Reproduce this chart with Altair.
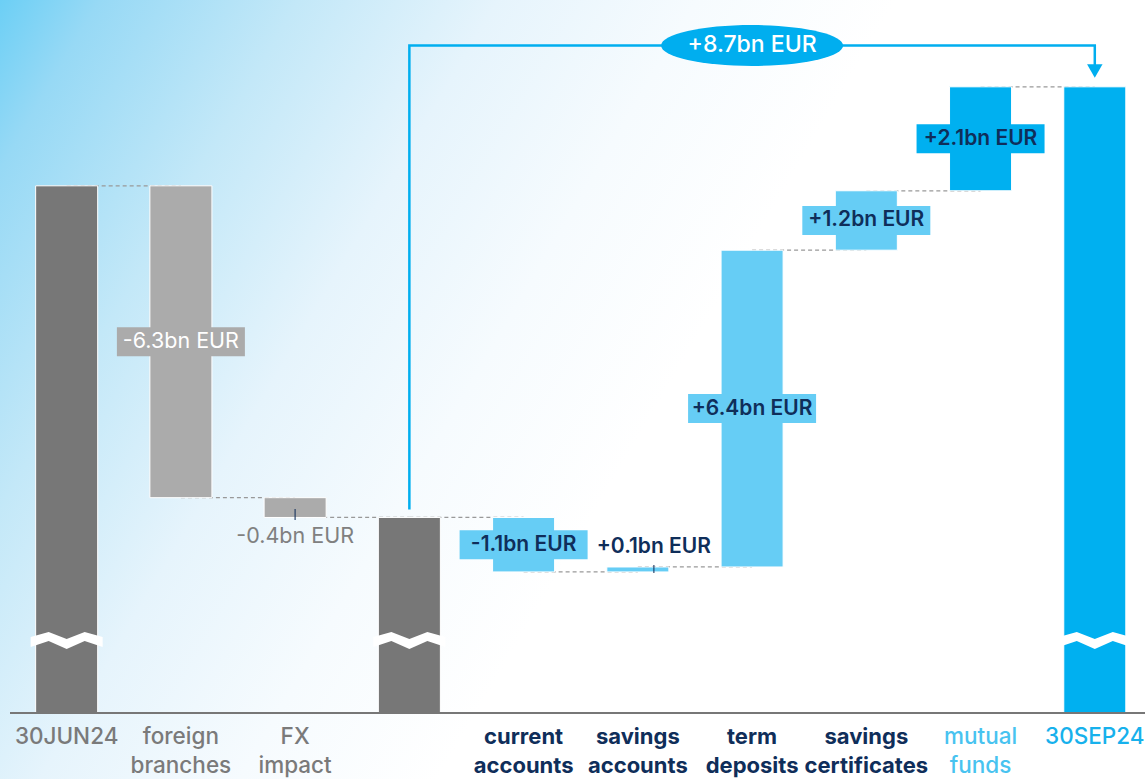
import altair as alt
import pandas as pd

# ---------------- data ----------------
categories = ["30JUN24", "foreign branches", "FX impact", "subtotal",
              "current accounts", "savings accounts", "term deposits",
              "savings certificates", "mutual funds", "30SEP24"]
label_line1 = ["30JUN24", "foreign", "FX", "", "current", "savings", "term",
               "savings", "mutual", "30SEP24"]
label_line2 = ["", "branches", "impact", "", "accounts", "accounts", "deposits",
               "certificates", "funds", ""]
bar_kind = ["total", "change", "change", "total", "change", "change", "change",
            "change", "change", "total"]
changes = [None, -6.3, -0.4, None, -1.1, 0.1, 6.4, 1.2, 2.1, None]
style_group = ["grey_total", "grey_change", "grey_change", "grey_total",
               "blue_change", "blue_change", "blue_change", "blue_change",
               "fund_change", "blue_total"]
label_place = ["none", "box", "below", "none", "box", "above", "box", "box",
               "box", "none"]
start_level = 10.65   # height of 30JUN24 above the axis cut (bn EUR)
bracket_from = "subtotal"
bracket_to = "30SEP24"

# ---------------- styles / layout ----------------
W, H = 1145, 779
PX_PER_BN = 49.5
BASELINE_PX = 713
Y_MAX = BASELINE_PX / PX_PER_BN
Y_MIN = -(H - BASELINE_PX) / PX_PER_BN
LABEL_Y1 = -24 / PX_PER_BN
LABEL_Y2 = -53 / PX_PER_BN
BREAK_Y = 73 / PX_PER_BN
FONT = "Inter"

bar_colors = {"grey_total": "#777777", "grey_change": "#ababab",
              "blue_change": "#66cdf5", "fund_change": "#00b0f0",
              "blue_total": "#00b0f0"}
cat_label_colors = {"grey_total": "#7a7a7a", "grey_change": "#7a7a7a",
                    "blue_change": "#0f2e5a", "fund_change": "#48c3f0",
                    "blue_total": "#17b1ec"}
NAVY = "#0f2e5a"
ARROW_BLUE = "#00aeef"

ZIGZAG = ("M-1,-0.083 L-0.5,-0.222 L0,-0.028 L0.5,-0.222 L1,-0.083 "
          "L1,0.194 L0.5,0.028 L0,0.25 L-0.5,0.028 L-1,0.194 Z")
BOX = "M-1,-0.227 L1,-0.227 L1,0.227 L-1,0.227 Z"
K = 0.5523
RY = 0.225
ELLIPSE = (f"M-1,0 C-1,{-RY*K} {-K},{-RY} 0,{-RY} C{K},{-RY} 1,{-RY*K} 1,0 "
           f"C1,{RY*K} {K},{RY} 0,{RY} C{-K},{RY} -1,{RY*K} -1,0 Z")

# ---------------- build table ----------------
rows = []
level = start_level
for i, c in enumerate(categories):
    if bar_kind[i] == "total":
        lo, hi, end = 0.0, level, level
        text = ""
    else:
        s = level
        e = level + changes[i]
        level = e
        lo, hi, end = min(s, e), max(s, e), e
        text = f"{changes[i]:+.1f}bn EUR"
    rows.append(dict(category=c, lo=lo, hi=hi, mid=(lo + hi) / 2, end=end,
                     kind=bar_kind[i], group=style_group[i], place=label_place[i],
                     text=text, line1=label_line1[i], line2=label_line2[i],
                     bar_color=bar_colors[style_group[i]],
                     lab_color=cat_label_colors[style_group[i]]))
df = pd.DataFrame(rows)

conn = pd.DataFrame([dict(category=categories[i], next=categories[i + 1],
                          level=rows[i]["end"]) for i in range(len(categories) - 1)])

i_from = categories.index(bracket_from)
i_to = categories.index(bracket_to)
bracket_value = sum(changes[j] for j in range(i_from + 1, i_to) if changes[j] is not None)
from_level = rows[i_from]["hi"]
to_level = rows[i_to]["hi"]
arrow_top = to_level + 0.835
arrow = pd.DataFrame([
    dict(category=bracket_from, level=from_level + 0.16, o=0),
    dict(category=bracket_from, level=arrow_top, o=1),
    dict(category=bracket_to, level=arrow_top, o=2),
    dict(category=bracket_to, level=to_level + 0.36, o=3),
])
arrow_head = pd.DataFrame([dict(category=bracket_to, level=to_level + 0.32)])
mid_cat = categories[(i_from + i_to + 1) // 2]
bubble = pd.DataFrame([dict(category=mid_cat, level=arrow_top,
                            text=f"{bracket_value:+.1f}bn EUR")])

# ---------------- encodings ----------------
x_scale = alt.Scale(domain=categories, paddingInner=0.457, paddingOuter=0.24, align=0.65)
y_scale = alt.Scale(domain=[Y_MIN, Y_MAX], nice=False, zero=False)


def X(field="category"):
    return alt.X(f"{field}:N", scale=x_scale, axis=None, sort=categories)


def Y(field):
    return alt.Y(f"{field}:Q", scale=y_scale, axis=None)


base = alt.Chart(df)

gradient = {
    "gradient": "linear", "x1": 0, "y1": 0, "x2": 0.75, "y2": 0.3,
    "stops": [
        {"offset": 0.0, "color": "#6ccff5"},
        {"offset": 0.1, "color": "#97d9f5"},
        {"offset": 0.3, "color": "#c3e8f8"},
        {"offset": 0.5, "color": "#e6f4fc"},
        {"offset": 0.7, "color": "#f6fbfe"},
        {"offset": 0.9, "color": "#ffffff"},
        {"offset": 1.0, "color": "#ffffff"},
    ],
}

backdrop = alt.Chart(pd.DataFrame([{"bg": 1}])).mark_rect(color=gradient).encode(
    x=alt.value(0), x2=alt.value(W), y=alt.value(0), y2=alt.value(H))

connectors = alt.Chart(conn).mark_rule(
    strokeDash=[4, 3], color="#999999", strokeWidth=1.2
).encode(x=X(), x2="next:N", y=Y("level"))

bars = base.mark_bar(stroke="white", strokeWidth=1).encode(
    x=X(), y=Y("lo"), y2="hi", color=alt.Color("bar_color:N", scale=None))

breaks = base.transform_filter("datum.kind == 'total'").mark_point(
    shape=ZIGZAG, size=72 * 72, filled=True, color="white", opacity=1, strokeWidth=0
).encode(x=X(), y=alt.Y(datum=BREAK_Y, type="quantitative", scale=y_scale, axis=None))

baseline = alt.Chart(pd.DataFrame([{"b": 0}])).mark_rule(color="#777777", strokeWidth=2).encode(
    y=alt.Y(datum=0, type="quantitative", scale=y_scale, axis=None),
    x=alt.value(10), x2=alt.value(W))

box_bg = base.transform_filter("datum.place == 'box'").mark_point(
    shape=BOX, size=128 * 128, filled=True, opacity=1, strokeWidth=0
).encode(x=X(), y=Y("mid"), color=alt.Color("bar_color:N", scale=None))

box_text_white = base.transform_filter(
    "datum.place == 'box' && datum.group == 'grey_change'").mark_text(
    font=FONT, fontSize=21.5, fontWeight=400, color="white", baseline="middle"
).encode(x=X(), y=Y("mid"), text="text:N")

box_text_navy = base.transform_filter(
    "datum.place == 'box' && datum.group != 'grey_change'").mark_text(
    font=FONT, fontSize=21, fontWeight=600, color=NAVY, baseline="middle"
).encode(x=X(), y=Y("mid"), text="text:N")

below_text = base.transform_filter("datum.place == 'below'").mark_text(
    font=FONT, fontSize=21.5, fontWeight=400, color="#808080", baseline="middle", dy=20
).encode(x=X(), y=Y("lo"), text="text:N")

below_tick = base.transform_filter("datum.place == 'below'").mark_tick(
    orient="vertical", size=11, thickness=1.5, color=NAVY, yOffset=-3
).encode(x=X(), y=Y("lo"))

above_text = base.transform_filter("datum.place == 'above'").mark_text(
    font=FONT, fontSize=21, fontWeight=600, color=NAVY, baseline="middle",
    dy=-20, dx=16
).encode(x=X(), y=Y("hi"), text="text:N")

above_tick = base.transform_filter("datum.place == 'above'").mark_tick(
    orient="vertical", size=8, thickness=1.5, color=NAVY, yOffset=-3, xOffset=16
).encode(x=X(), y=Y("lo"))

arrow_line = alt.Chart(arrow).mark_line(
    color=ARROW_BLUE, strokeWidth=2.5, strokeJoin="miter"
).encode(x=X(), y=Y("level"), order="o:Q")

arrow_tip = alt.Chart(arrow_head).mark_point(
    shape="triangle-down", size=240, filled=True, color=ARROW_BLUE, opacity=1
).encode(x=X(), y=Y("level"))

bubble_bg = alt.Chart(bubble).mark_point(
    shape=ELLIPSE, size=182 * 182, filled=True, color=ARROW_BLUE, opacity=1,
    strokeWidth=0
).encode(x=X(), y=Y("level"))

bubble_text = alt.Chart(bubble).mark_text(
    font=FONT, fontSize=23, fontWeight=500, color="white", baseline="middle"
).encode(x=X(), y=Y("level"), text="text:N")

cat_normal_1 = base.transform_filter("datum.group != 'blue_change'").mark_text(
    font=FONT, fontSize=22.5, fontWeight=500, baseline="middle"
).encode(x=X(), y=alt.Y(datum=LABEL_Y1, type="quantitative", scale=y_scale, axis=None),
         text="line1:N", color=alt.Color("lab_color:N", scale=None))
cat_normal_2 = base.transform_filter("datum.group != 'blue_change'").mark_text(
    font=FONT, fontSize=22.5, fontWeight=500, baseline="middle"
).encode(x=X(), y=alt.Y(datum=LABEL_Y2, type="quantitative", scale=y_scale, axis=None),
         text="line2:N", color=alt.Color("lab_color:N", scale=None))
cat_bold_1 = base.transform_filter("datum.group == 'blue_change'").mark_text(
    font=FONT, fontSize=22, fontWeight="bold", baseline="middle"
).encode(x=X(), y=alt.Y(datum=LABEL_Y1, type="quantitative", scale=y_scale, axis=None),
         text="line1:N", color=alt.Color("lab_color:N", scale=None))
cat_bold_2 = base.transform_filter("datum.group == 'blue_change'").mark_text(
    font=FONT, fontSize=22, fontWeight="bold", baseline="middle"
).encode(x=X(), y=alt.Y(datum=LABEL_Y2, type="quantitative", scale=y_scale, axis=None),
         text="line2:N", color=alt.Color("lab_color:N", scale=None))

chart = alt.layer(
    backdrop, connectors, bars, breaks, baseline, box_bg, box_text_white, box_text_navy,
    below_text, below_tick, above_text, above_tick, arrow_line, arrow_tip,
    bubble_bg, bubble_text, cat_normal_1, cat_normal_2, cat_bold_1, cat_bold_2
).properties(
    width=W, height=H, padding=0, background="white",
    autosize=alt.AutoSizeParams(type="none")
).configure_view(stroke="transparent")

chart.save("out.html", embed_options={"renderer": "svg", "actions": False})
